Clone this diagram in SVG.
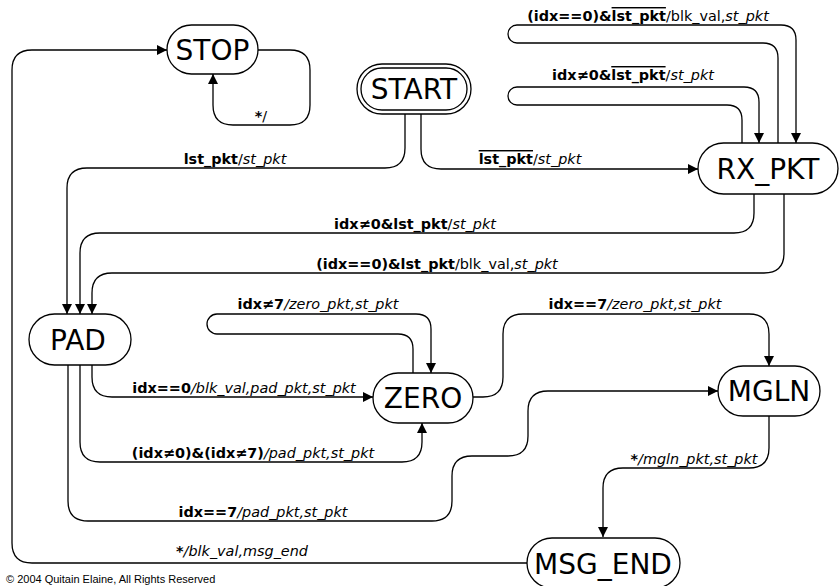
<svg xmlns="http://www.w3.org/2000/svg" width="839" height="586" viewBox="0 0 839 586">
  <style>
    .node { fill: #fff; stroke: #000; stroke-width: 1.3; }
    .name { font-family: "DejaVu Sans", Verdana, sans-serif; font-size: 28px; text-anchor: middle; fill: #000; }
    .edge { fill: none; stroke: #000; stroke-width: 1.3; }
    .arr { marker-end: url(#head); }
    .lbl { font-family: "DejaVu Sans", Verdana, sans-serif; font-size: 14.4px; fill: #000; text-anchor: middle; }
    .b { font-weight: bold; }
    .i { font-style: italic; }
    .ov { text-decoration: overline; }
    .copy { font-family: "Liberation Sans", Arial, sans-serif; font-size: 11px; fill: #000; }
  </style>
  <defs>
    <marker id="head" markerUnits="userSpaceOnUse" markerWidth="10" markerHeight="10" refX="10" refY="5" orient="auto">
      <path d="M0,0 L10,5 L0,10 z" fill="#000"/>
    </marker>
  </defs>
  <rect width="839" height="586" fill="#fff"/>

  <!-- transitions -->
  <g id="connectors">
    <!-- STOP self loop -->
    <path class="edge arr" d="M258,50 H290 Q310,50 310,70 V105 Q310,125 290,125 H233 Q213,125 213,105 V74"/>
    <!-- MSG_END -> STOP -->
    <path class="edge arr" d="M527,563 H32 Q12,563 12,543 V70 Q12,50 32,50 H167"/>
    <!-- START -> PAD -->
    <path class="edge arr" d="M405,114 V148 Q405,168 385,168 H87 Q67,168 67,188 V314"/>
    <!-- START -> RX_PKT -->
    <path class="edge arr" d="M421,114 V149 Q421,169 441,169 H698"/>
    <!-- RX_PKT self loop (idx==0) -->
    <path class="edge arr" d="M778,143 V58 Q778,43 763,43 H517 A9,9 0 0 1 517,25 H781 Q796,25 796,40 V143"/>
    <!-- RX_PKT self loop (idx!=0) -->
    <path class="edge arr" d="M742,143 V120 Q742,105 727,105 H517 A9,9 0 0 1 517,87 H744 Q759,87 759,102 V143"/>
    <!-- RX_PKT -> PAD (idx!=0) -->
    <path class="edge arr" d="M754,194 V213 Q754,233 734,233 H100 Q80,233 80,253 V314"/>
    <!-- RX_PKT -> PAD (idx==0) -->
    <path class="edge arr" d="M784,194 V253 Q784,273 764,273 H112 Q92,273 92,293 V314"/>
    <!-- PAD -> ZERO (idx==0) -->
    <path class="edge arr" d="M92,365 V377 Q92,397 112,397 H373"/>
    <!-- ZERO self loop -->
    <path class="edge arr" d="M413,373 V349 Q413,334 398,334 H217 A10,10 0 0 1 217,314 H416 Q431,314 431,329 V373"/>
    <!-- ZERO -> MGLN -->
    <path class="edge arr" d="M473,397 H483 Q503,397 503,377 V334 Q503,314 523,314 H749 Q769,314 769,334 V366"/>
    <!-- PAD -> ZERO (idx!=0, idx!=7) -->
    <path class="edge arr" d="M80,365 V442 Q80,462 100,462 H402 Q422,462 422,442 V423"/>
    <!-- PAD -> MGLN (idx==7) -->
    <path class="edge arr" d="M68,365 V501 Q68,521 88,521 H432 Q452,521 452,501 V476 Q452,456 472,456 H508 Q528,456 528,436 V411 Q528,391 548,391 H718"/>
    <!-- MGLN -> MSG_END -->
    <path class="edge arr" d="M769,416 V448 Q769,468 749,468 H623 Q603,468 603,488 V537"/>
  </g>

  <!-- transition labels -->
  <g id="labels">
    <text class="lbl" x="261" y="121"><tspan class="b">*</tspan>/</text>
    <text class="lbl" x="242" y="556"><tspan class="b">*</tspan><tspan class="i">/blk_val,msg_end</tspan></text>
    <text class="lbl" x="235" y="164"><tspan class="b">lst_pkt</tspan>/<tspan class="i">st_pkt</tspan></text>
    <text class="lbl" x="530" y="164"><tspan class="b ov">lst_pkt</tspan>/<tspan class="i">st_pkt</tspan></text>
    <text class="lbl" x="648" y="21"><tspan class="b">(idx==0)&amp;</tspan><tspan class="b ov">lst_pkt</tspan>/blk_val,<tspan class="i">st_pkt</tspan></text>
    <text class="lbl" x="633" y="80"><tspan class="b">idx≠0&amp;</tspan><tspan class="b ov">lst_pkt</tspan>/<tspan class="i">st_pkt</tspan></text>
    <text class="lbl" x="415" y="229"><tspan class="b">idx≠0&amp;lst_pkt</tspan>/<tspan class="i">st_pkt</tspan></text>
    <text class="lbl" x="437" y="269"><tspan class="b">(idx==0)&amp;lst_pkt</tspan>/blk_val,<tspan class="i">st_pkt</tspan></text>
    <text class="lbl" x="318" y="309"><tspan class="b">idx≠7</tspan><tspan class="i">/zero_pkt,st_pkt</tspan></text>
    <text class="lbl" x="635" y="309"><tspan class="b">idx==7</tspan><tspan class="i">/zero_pkt,st_pkt</tspan></text>
    <text class="lbl" x="244" y="393"><tspan class="b">idx==0</tspan><tspan class="i">/blk_val,pad_pkt,st_pkt</tspan></text>
    <text class="lbl" x="253" y="458"><tspan class="b">(idx≠0)&amp;(idx≠7)</tspan><tspan class="i">/pad_pkt,st_pkt</tspan></text>
    <text class="lbl" x="263" y="517"><tspan class="b">idx==7</tspan><tspan class="i">/pad_pkt,st_pkt</tspan></text>
    <text class="lbl" x="694" y="464"><tspan class="b">*</tspan><tspan class="i">/mgln_pkt,st_pkt</tspan></text>
  </g>

  <!-- states -->
  <g id="STOP">
    <rect class="node" x="167" y="25" width="91" height="49" rx="24.5"/>
    <text class="name" x="212.5" y="60">STOP</text>
  </g>
  <g id="START">
    <rect class="node" x="357" y="64" width="114" height="50" rx="25"/>
    <rect class="node" x="361" y="68" width="106" height="42" rx="21"/>
    <text class="name" x="414" y="99">START</text>
  </g>
  <g id="RX_PKT">
    <rect class="node" x="698" y="143" width="140" height="51" rx="25.5"/>
    <text class="name" x="768" y="179">RX_PKT</text>
  </g>
  <g id="PAD">
    <rect class="node" x="29" y="314" width="102" height="51" rx="25.5"/>
    <text class="name" x="78" y="350">PAD</text>
  </g>
  <g id="ZERO">
    <rect class="node" x="373" y="373" width="100" height="50" rx="25"/>
    <text class="name" x="423" y="408">ZERO</text>
  </g>
  <g id="MGLN">
    <rect class="node" x="718" y="366" width="102" height="50" rx="25"/>
    <text class="name" x="769" y="401">MGLN</text>
  </g>
  <g id="MSG_END">
    <rect class="node" x="527" y="538" width="153" height="50" rx="25"/>
    <text class="name" x="603" y="574">MSG_END</text>
  </g>

  <text class="copy" x="6" y="583">© 2004 Quitain Elaine, All Rights Reserved</text>
</svg>
